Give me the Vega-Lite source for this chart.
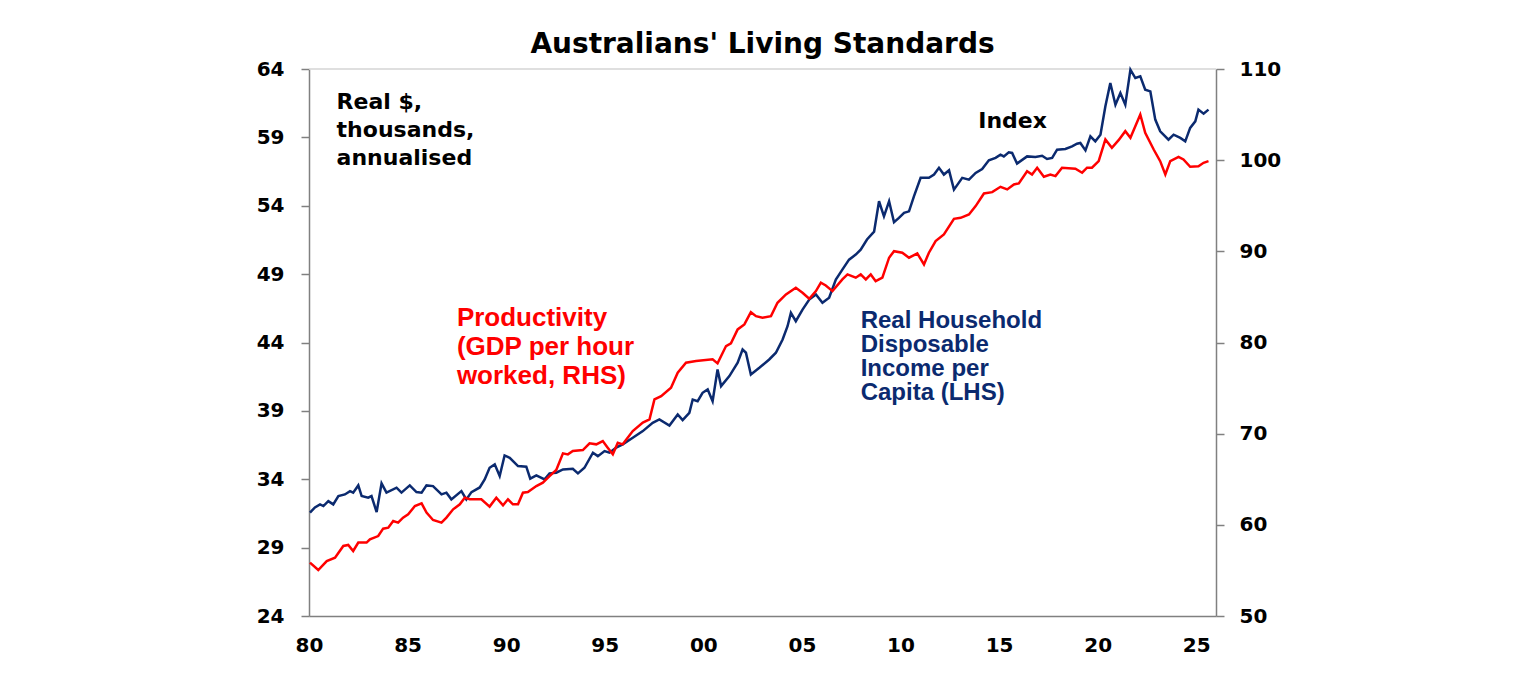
{
  "$schema": "https://vega.github.io/schema/vega-lite/v6.json",
  "width": 907,
  "height": 547,
  "autosize": {"type": "none"},
  "padding": {"left": 309, "top": 69, "right": 320, "bottom": 64},
  "background": "white",
  "config": {
    "font": "Liberation Sans",
    "view": {"stroke": null},
    "axis": {
      "domainColor": "#808080",
      "domainWidth": 1.5,
      "tickColor": "#808080",
      "tickWidth": 1.5,
      "labelFont": "DejaVu Sans",
      "labelFontSize": 20,
      "labelFontWeight": "bold",
      "labelColor": "black",
      "grid": false,
      "title": null
    }
  },
  "title": {
    "text": "Australians' Living Standards",
    "font": "DejaVu Sans",
    "fontSize": 28,
    "fontWeight": "bold",
    "color": "black",
    "offset": 0
  },
  "datasets": {
    "income": [
      {"date": 1980.05, "value": 31.56}, {"date": 1980.30, "value": 31.94}, {"date": 1980.56, "value": 32.16},
      {"date": 1980.73, "value": 32.04}, {"date": 1980.98, "value": 32.40}, {"date": 1981.23, "value": 32.16},
      {"date": 1981.49, "value": 32.77}, {"date": 1981.82, "value": 32.89}, {"date": 1982.08, "value": 33.13},
      {"date": 1982.24, "value": 33.02}, {"date": 1982.50, "value": 33.55}, {"date": 1982.67, "value": 32.77},
      {"date": 1983.00, "value": 32.65}, {"date": 1983.17, "value": 32.77}, {"date": 1983.43, "value": 31.60},
      {"date": 1983.68, "value": 33.70}, {"date": 1983.93, "value": 33.02}, {"date": 1984.44, "value": 33.38},
      {"date": 1984.69, "value": 33.02}, {"date": 1985.11, "value": 33.55}, {"date": 1985.45, "value": 33.06},
      {"date": 1985.71, "value": 33.02}, {"date": 1985.96, "value": 33.55}, {"date": 1986.29, "value": 33.50},
      {"date": 1986.72, "value": 32.89}, {"date": 1986.97, "value": 33.02}, {"date": 1987.22, "value": 32.53},
      {"date": 1987.73, "value": 33.13}, {"date": 1987.98, "value": 32.53}, {"date": 1988.24, "value": 33.06},
      {"date": 1988.66, "value": 33.40}, {"date": 1988.91, "value": 33.99}, {"date": 1989.16, "value": 34.84},
      {"date": 1989.42, "value": 35.09}, {"date": 1989.67, "value": 34.23}, {"date": 1989.92, "value": 35.74},
      {"date": 1990.18, "value": 35.57}, {"date": 1990.60, "value": 34.96}, {"date": 1991.02, "value": 34.92},
      {"date": 1991.22, "value": 34.04}, {"date": 1991.53, "value": 34.28}, {"date": 1991.95, "value": 33.99},
      {"date": 1992.20, "value": 34.43}, {"date": 1992.54, "value": 34.48}, {"date": 1992.88, "value": 34.72},
      {"date": 1993.38, "value": 34.77}, {"date": 1993.64, "value": 34.43}, {"date": 1993.97, "value": 34.84},
      {"date": 1994.40, "value": 35.94}, {"date": 1994.65, "value": 35.69}, {"date": 1994.99, "value": 36.06},
      {"date": 1995.24, "value": 35.94}, {"date": 1995.58, "value": 36.31}, {"date": 1995.91, "value": 36.55},
      {"date": 1996.42, "value": 37.04}, {"date": 1996.93, "value": 37.52}, {"date": 1997.43, "value": 38.13},
      {"date": 1997.77, "value": 38.37}, {"date": 1998.28, "value": 37.93}, {"date": 1998.70, "value": 38.74},
      {"date": 1998.95, "value": 38.32}, {"date": 1999.29, "value": 38.86}, {"date": 1999.46, "value": 39.83},
      {"date": 1999.71, "value": 39.71}, {"date": 1999.96, "value": 40.32}, {"date": 2000.22, "value": 40.57},
      {"date": 2000.47, "value": 39.71}, {"date": 2000.72, "value": 42.03}, {"date": 2000.90, "value": 40.81},
      {"date": 2001.32, "value": 41.54}, {"date": 2001.74, "value": 42.52}, {"date": 2001.99, "value": 43.49},
      {"date": 2002.16, "value": 43.25}, {"date": 2002.41, "value": 41.66}, {"date": 2002.84, "value": 42.15},
      {"date": 2003.34, "value": 42.76}, {"date": 2003.68, "value": 43.25}, {"date": 2004.02, "value": 44.22},
      {"date": 2004.27, "value": 45.19}, {"date": 2004.44, "value": 46.17}, {"date": 2004.69, "value": 45.56},
      {"date": 2005.03, "value": 46.41}, {"date": 2005.37, "value": 47.14}, {"date": 2005.71, "value": 47.51},
      {"date": 2006.04, "value": 46.90}, {"date": 2006.38, "value": 47.27}, {"date": 2006.72, "value": 48.60},
      {"date": 2007.05, "value": 49.33}, {"date": 2007.39, "value": 50.06}, {"date": 2007.73, "value": 50.43},
      {"date": 2007.98, "value": 50.79}, {"date": 2008.30, "value": 51.53}, {"date": 2008.66, "value": 52.11},
      {"date": 2008.91, "value": 54.33}, {"date": 2009.16, "value": 53.23}, {"date": 2009.42, "value": 54.33},
      {"date": 2009.67, "value": 52.79}, {"date": 2009.92, "value": 53.11}, {"date": 2010.18, "value": 53.48},
      {"date": 2010.43, "value": 53.59}, {"date": 2010.68, "value": 54.69}, {"date": 2011.02, "value": 56.04},
      {"date": 2011.44, "value": 56.04}, {"date": 2011.70, "value": 56.28}, {"date": 2011.95, "value": 56.77},
      {"date": 2012.20, "value": 56.28}, {"date": 2012.46, "value": 56.59}, {"date": 2012.71, "value": 55.18},
      {"date": 2013.13, "value": 56.04}, {"date": 2013.47, "value": 55.91}, {"date": 2013.81, "value": 56.40},
      {"date": 2014.14, "value": 56.69}, {"date": 2014.48, "value": 57.32}, {"date": 2014.82, "value": 57.50},
      {"date": 2015.07, "value": 57.74}, {"date": 2015.24, "value": 57.61}, {"date": 2015.49, "value": 57.91},
      {"date": 2015.66, "value": 57.86}, {"date": 2015.91, "value": 57.08}, {"date": 2016.42, "value": 57.61},
      {"date": 2016.84, "value": 57.57}, {"date": 2017.18, "value": 57.66}, {"date": 2017.43, "value": 57.42},
      {"date": 2017.69, "value": 57.50}, {"date": 2017.94, "value": 58.10}, {"date": 2018.36, "value": 58.15},
      {"date": 2018.70, "value": 58.34}, {"date": 2018.95, "value": 58.54}, {"date": 2019.12, "value": 58.59},
      {"date": 2019.38, "value": 58.05}, {"date": 2019.63, "value": 59.08}, {"date": 2019.88, "value": 58.71},
      {"date": 2020.14, "value": 59.20}, {"date": 2020.39, "value": 61.27}, {"date": 2020.64, "value": 62.98},
      {"date": 2020.90, "value": 61.39}, {"date": 2021.15, "value": 62.25}, {"date": 2021.40, "value": 61.39},
      {"date": 2021.66, "value": 63.95}, {"date": 2021.91, "value": 63.34}, {"date": 2022.16, "value": 63.46},
      {"date": 2022.41, "value": 62.49}, {"date": 2022.67, "value": 62.36}, {"date": 2022.92, "value": 60.30},
      {"date": 2023.17, "value": 59.44}, {"date": 2023.59, "value": 58.83}, {"date": 2023.85, "value": 59.20},
      {"date": 2024.19, "value": 58.96}, {"date": 2024.44, "value": 58.71}, {"date": 2024.69, "value": 59.69},
      {"date": 2024.95, "value": 60.17}, {"date": 2025.11, "value": 61.03}, {"date": 2025.37, "value": 60.73},
      {"date": 2025.62, "value": 61.03}
    ],
    "productivity": [
      {"date": 1980.05, "value": 55.86}, {"date": 1980.47, "value": 55.04}, {"date": 1980.90, "value": 56.03},
      {"date": 1981.32, "value": 56.40}, {"date": 1981.74, "value": 57.68}, {"date": 1981.99, "value": 57.79},
      {"date": 1982.24, "value": 57.13}, {"date": 1982.50, "value": 58.05}, {"date": 1982.92, "value": 58.05},
      {"date": 1983.09, "value": 58.41}, {"date": 1983.51, "value": 58.77}, {"date": 1983.76, "value": 59.58},
      {"date": 1984.02, "value": 59.69}, {"date": 1984.27, "value": 60.42}, {"date": 1984.52, "value": 60.24},
      {"date": 1984.77, "value": 60.79}, {"date": 1985.03, "value": 61.15}, {"date": 1985.37, "value": 62.06},
      {"date": 1985.71, "value": 62.36}, {"date": 1985.96, "value": 61.34}, {"date": 1986.29, "value": 60.53},
      {"date": 1986.72, "value": 60.24}, {"date": 1986.97, "value": 60.79}, {"date": 1987.31, "value": 61.70},
      {"date": 1987.65, "value": 62.25}, {"date": 1987.90, "value": 62.98}, {"date": 1988.15, "value": 62.80},
      {"date": 1988.74, "value": 62.80}, {"date": 1989.16, "value": 62.00}, {"date": 1989.50, "value": 62.98},
      {"date": 1989.84, "value": 62.14}, {"date": 1990.09, "value": 62.80}, {"date": 1990.34, "value": 62.25},
      {"date": 1990.60, "value": 62.25}, {"date": 1990.85, "value": 63.53}, {"date": 1991.10, "value": 63.60},
      {"date": 1991.53, "value": 64.25}, {"date": 1991.86, "value": 64.63}, {"date": 1992.20, "value": 65.35},
      {"date": 1992.54, "value": 66.01}, {"date": 1992.88, "value": 67.84}, {"date": 1993.13, "value": 67.73},
      {"date": 1993.38, "value": 68.09}, {"date": 1993.89, "value": 68.20}, {"date": 1994.23, "value": 68.94},
      {"date": 1994.57, "value": 68.83}, {"date": 1994.90, "value": 69.19}, {"date": 1995.15, "value": 68.46},
      {"date": 1995.41, "value": 67.73}, {"date": 1995.66, "value": 69.01}, {"date": 1995.91, "value": 68.83},
      {"date": 1996.42, "value": 70.29}, {"date": 1996.93, "value": 71.21}, {"date": 1997.27, "value": 71.57},
      {"date": 1997.52, "value": 73.76}, {"date": 1997.86, "value": 74.12}, {"date": 1998.36, "value": 75.04},
      {"date": 1998.70, "value": 76.69}, {"date": 1999.12, "value": 77.78}, {"date": 1999.63, "value": 77.96},
      {"date": 2000.47, "value": 78.15}, {"date": 2000.72, "value": 77.71}, {"date": 2001.15, "value": 79.61},
      {"date": 2001.40, "value": 79.90}, {"date": 2001.74, "value": 81.44}, {"date": 2002.08, "value": 81.98},
      {"date": 2002.41, "value": 83.33}, {"date": 2002.67, "value": 82.89}, {"date": 2003.00, "value": 82.72},
      {"date": 2003.43, "value": 82.89}, {"date": 2003.76, "value": 84.36}, {"date": 2004.19, "value": 85.27},
      {"date": 2004.69, "value": 86.01}, {"date": 2005.03, "value": 85.46}, {"date": 2005.37, "value": 84.80},
      {"date": 2005.71, "value": 85.64}, {"date": 2005.96, "value": 86.56}, {"date": 2006.21, "value": 86.26},
      {"date": 2006.55, "value": 85.64}, {"date": 2007.05, "value": 86.92}, {"date": 2007.31, "value": 87.47},
      {"date": 2007.73, "value": 87.11}, {"date": 2007.98, "value": 87.47}, {"date": 2008.24, "value": 86.92},
      {"date": 2008.49, "value": 87.47}, {"date": 2008.74, "value": 86.73}, {"date": 2009.08, "value": 87.11},
      {"date": 2009.42, "value": 89.30}, {"date": 2009.67, "value": 90.02}, {"date": 2010.09, "value": 89.85},
      {"date": 2010.43, "value": 89.30}, {"date": 2010.85, "value": 89.77}, {"date": 2011.19, "value": 88.56},
      {"date": 2011.44, "value": 89.85}, {"date": 2011.78, "value": 91.12}, {"date": 2012.20, "value": 91.85},
      {"date": 2012.71, "value": 93.57}, {"date": 2013.05, "value": 93.68}, {"date": 2013.47, "value": 94.05},
      {"date": 2013.81, "value": 94.96}, {"date": 2014.23, "value": 96.35}, {"date": 2014.65, "value": 96.49},
      {"date": 2015.07, "value": 97.08}, {"date": 2015.41, "value": 96.79}, {"date": 2015.75, "value": 97.34},
      {"date": 2016.00, "value": 97.45}, {"date": 2016.42, "value": 98.79}, {"date": 2016.67, "value": 98.43},
      {"date": 2016.93, "value": 99.17}, {"date": 2017.27, "value": 98.18}, {"date": 2017.60, "value": 98.43},
      {"date": 2017.86, "value": 98.25}, {"date": 2018.19, "value": 99.17}, {"date": 2018.87, "value": 99.06},
      {"date": 2019.21, "value": 98.62}, {"date": 2019.46, "value": 99.17}, {"date": 2019.71, "value": 99.17},
      {"date": 2020.05, "value": 99.89}, {"date": 2020.39, "value": 102.27}, {"date": 2020.72, "value": 101.36},
      {"date": 2021.06, "value": 102.19}, {"date": 2021.40, "value": 103.18}, {"date": 2021.66, "value": 102.46},
      {"date": 2022.16, "value": 105.01}, {"date": 2022.41, "value": 103.00}, {"date": 2022.84, "value": 101.17},
      {"date": 2023.17, "value": 99.89}, {"date": 2023.43, "value": 98.43}, {"date": 2023.68, "value": 99.89},
      {"date": 2024.10, "value": 100.37}, {"date": 2024.35, "value": 100.08}, {"date": 2024.69, "value": 99.28},
      {"date": 2025.11, "value": 99.34}, {"date": 2025.37, "value": 99.71}, {"date": 2025.62, "value": 99.89}
    ],
    "anchor": [{}]
  },
  "layer": [
    {
      "layer": [
        {
          "data": {"name": "anchor"},
          "mark": {"type": "rule", "color": "#d4d4d4", "strokeWidth": 1.5},
          "encoding": {
            "y": {"datum": 64, "type": "quantitative"}
          }
        },
        {
          "data": {"name": "income"},
          "mark": {"type": "line", "color": "#0b2a6f", "strokeWidth": 2.5},
          "encoding": {
            "x": {
              "field": "date",
              "type": "quantitative",
              "scale": {"domain": [1980, 2026], "nice": false, "zero": false},
              "axis": {
                "values": [1980, 1985, 1990, 1995, 2000, 2005, 2010, 2015, 2020, 2025],
                "labelExpr": "substring(toString(datum.value), 2)",
                "labelFlush": false,
                "ticks": false,
                "labelPadding": 19
              }
            },
            "y": {
              "field": "value",
              "type": "quantitative",
              "scale": {"domain": [24, 64], "nice": false, "zero": false},
              "axis": {
                "orient": "left",
                "values": [24, 29, 34, 39, 44, 49, 54, 59, 64],
                "tickSize": 8,
                "labelPadding": 17
              }
            }
          }
        },
        {
          "data": {"name": "anchor"},
          "mark": {"type": "text", "align": "left", "baseline": "alphabetic", "font": "DejaVu Sans", "fontSize": 22, "fontWeight": "bold", "lineHeight": 28, "color": "black"},
          "encoding": {
            "x": {"datum": 1981.4, "type": "quantitative"},
            "y": {"datum": 61.08, "type": "quantitative"},
            "text": {"value": ["Real $,", "thousands,", "annualised"]}
          }
        },
        {
          "data": {"name": "anchor"},
          "mark": {"type": "text", "align": "left", "baseline": "alphabetic", "font": "DejaVu Sans", "fontSize": 22, "fontWeight": "bold", "color": "black"},
          "encoding": {
            "x": {"datum": 2013.94, "type": "quantitative"},
            "y": {"datum": 59.69, "type": "quantitative"},
            "text": {"value": "Index"}
          }
        },
        {
          "data": {"name": "anchor"},
          "mark": {"type": "text", "align": "left", "baseline": "alphabetic", "fontSize": 26, "fontWeight": "bold", "lineHeight": 29, "color": "#ff0000"},
          "encoding": {
            "x": {"datum": 1987.5, "type": "quantitative"},
            "y": {"datum": 45.19, "type": "quantitative"},
            "text": {"value": ["Productivity", "(GDP per hour", "worked, RHS)"]}
          }
        },
        {
          "data": {"name": "anchor"},
          "mark": {"type": "text", "align": "left", "baseline": "alphabetic", "fontSize": 24, "fontWeight": "bold", "lineHeight": 24, "color": "#0b2a6f"},
          "encoding": {
            "x": {"datum": 2007.98, "type": "quantitative"},
            "y": {"datum": 45.07, "type": "quantitative"},
            "text": {"value": ["Real Household", "Disposable", "Income per", "Capita (LHS)"]}
          }
        }
      ]
    },
    {
      "layer": [
        {
          "data": {"name": "productivity"},
          "mark": {"type": "line", "color": "#ff0000", "strokeWidth": 2.5},
          "encoding": {
            "x": {"field": "date", "type": "quantitative"},
            "y": {
              "field": "value",
              "type": "quantitative",
              "scale": {"domain": [50, 110], "nice": false, "zero": false},
              "axis": {
                "orient": "right",
                "values": [50, 60, 70, 80, 90, 100, 110],
                "tickSize": 8,
                "labelPadding": 15
              }
            }
          }
        }
      ]
    }
  ],
  "resolve": {"scale": {"y": "independent"}}
}
